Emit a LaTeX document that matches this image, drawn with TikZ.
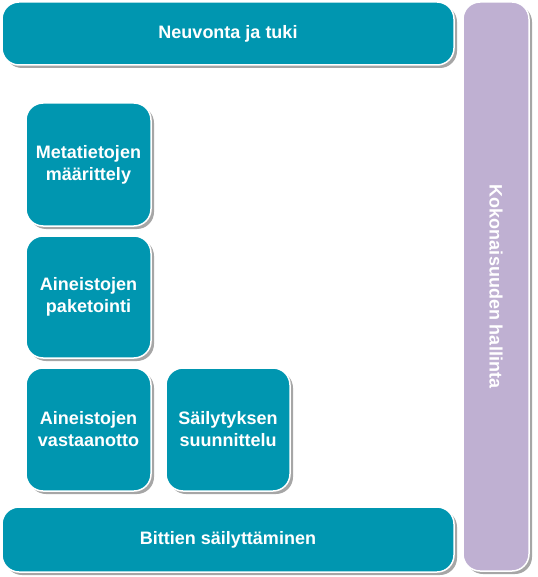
\documentclass[tikz,border=0pt]{standalone}
\usepackage{fontspec}
\setmainfont{Liberation Sans}
\usetikzlibrary{shadows}
\definecolor{teal1}{RGB}{0,150,176}
\definecolor{lila}{RGB}{191,176,210}
\begin{document}
\begin{tikzpicture}[x=1pt,y=-1pt,
  box/.style={fill=teal1,draw=white,line width=1.5pt,rounded corners=17pt,
    text=white,font=\bfseries\fontsize{18}{22}\selectfont,align=center,
    drop shadow={shadow xshift=3pt,shadow yshift=-3pt,fill=black!35,opacity=1}},
  lbox/.style={box,fill=lila}]
\useasboundingbox (0,0) rectangle (537,577);
\node[box,minimum width=452pt,minimum height=63pt,inner sep=0pt] (neu) at (228,33.5) {Neuvonta ja tuki};
\node[box,minimum width=452pt,minimum height=65pt,inner sep=0pt] (bit) at (228,539.5) {Bittien säilyttäminen};
\node[lbox,minimum width=66pt,minimum height=569pt,inner sep=0pt] (kok) at (496,286.5) {};
\node[text=white,font=\bfseries\fontsize{18}{22}\selectfont,rotate=-90] (kokt) at (kok.center) {Kokonaisuuden hallinta};
\node[box,minimum width=125pt,minimum height=123pt,inner sep=0pt] (met) at (88.5,164.5) {Metatietojen\\määrittely};
\node[box,minimum width=125pt,minimum height=122pt,inner sep=0pt] (pak) at (88.5,297) {Aineistojen\\paketointi};
\node[box,minimum width=125pt,minimum height=123pt,inner sep=0pt] (vas) at (88.5,429.5) {Aineistojen\\vastaanotto};
\node[box,minimum width=124pt,minimum height=123pt,inner sep=0pt] (sai) at (228,429.5) {Säilytyksen\\suunnittelu};
\end{tikzpicture}
\end{document}
